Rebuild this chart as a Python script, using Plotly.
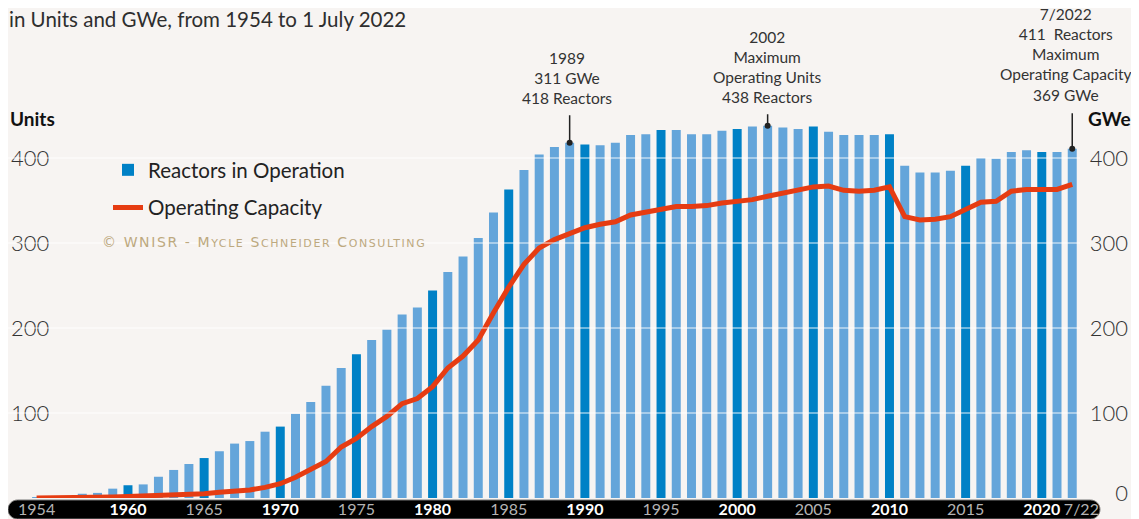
import plotly.graph_objects as go

# ---------------- data ----------------
years = list(range(1954, 2023))
reactors = [1, 1, 2, 5, 6, 11, 15, 16, 25, 33, 40, 47, 55, 64, 67, 78, 84, 99, 113, 132,
            153, 169, 186, 198, 216, 224, 244, 266, 284, 306, 336, 363, 386, 404, 413, 418,
            416, 415, 418, 427, 428, 433, 433, 428, 428, 432, 434, 437, 438, 436, 434, 437,
            431, 427, 427, 427, 428, 391, 383, 383, 385, 391, 400, 399, 407, 409, 407, 407, 411]
capacity = [0.005, 0.005, 0.06, 0.3, 0.6, 1.2, 1.8, 2.2, 2.7, 3.2, 3.9, 5.0, 6.8, 8.3, 9.5,
            12.5, 16.8, 24.5, 33, 43, 60, 70, 84, 96, 111, 117, 131, 153, 167, 186, 218, 248,
            275, 294, 304, 311, 318, 322, 325, 333, 336, 340, 343, 343, 344, 347, 349, 351,
            355, 359, 362, 366, 367, 362, 361, 362, 366, 331, 327, 328, 331, 339, 348, 349,
            361, 363, 363, 363, 369]
tick_years = [1954, 1960, 1965, 1970, 1975, 1980, 1985, 1990, 1995, 2000, 2005, 2010, 2015, 2020]
tick_labels = ["1954", "1960", "1965", "1970", "1975", "1980", "1985", "1990", "1995", "2000",
               "2005", "2010", "2015", "2020"]
last_label = "7/22"
y_ticks = [100, 200, 300, 400]
y2_ticks = [0, 100, 200, 300, 400]

# ---------------- styling ----------------
OFF = 8                      # page body margin
W, H = 1139 - OFF, 519 - OFF
ML, MR, MT, MB = 0, 6, 0, 21
PW, PH = W - ML - MR, H - MT - MB
BG = "#f7f4f2"
LIGHT = "#64a5da"
DARK = "#0081c6"
RED = "#e63c12"
TXT = "#2e2e2e"
FONT = "Lato"

x_scale = 15.23               # px per year
x_first_px = 36.6 - OFF       # px position of first year inside the figure
x_min = years[0] - x_first_px / x_scale
x_max = x_min + PW / x_scale
y_scale = 0.85                # px per unit
y_max = PH / y_scale
BAR_W = 0.59
ZERO_LIFT = 6                 # the "0" label sits a little above the baseline


def pp(x, y):
    """screen pixel -> paper coordinates (decoration placement only)"""
    return (x - OFF - ML) / PW, (MT + PH - (y - OFF)) / PH


hl = [y % 5 == 0 for y in years]
fig = go.Figure()
fig.add_trace(go.Bar(
    x=[y for y, h in zip(years, hl) if not h],
    y=[v for v, h in zip(reactors, hl) if not h],
    width=BAR_W, marker=dict(color=LIGHT, line=dict(width=0)),
    name="Reactors in Operation", showlegend=False, legendgroup="a",
))
fig.add_trace(go.Bar(
    x=[y for y, h in zip(years, hl) if h],
    y=[v for v, h in zip(reactors, hl) if h],
    width=BAR_W, marker=dict(color=DARK, line=dict(width=0)),
    name="Reactors in Operation", legendgroup="a",
))
fig.add_trace(go.Scatter(
    x=years, y=capacity, mode="lines", yaxis="y2",
    line=dict(color=RED, width=5), name="Operating Capacity", legendgroup="b",
))

# x tick labels inside black band
tv = tick_years + [years[-1] + 0.6]
tt = []
for y, lab in zip(tick_years, tick_labels):
    if y % 10 == 0:
        tt.append(f"<b><span style='color:#ffffff'>{lab}</span></b>")
    else:
        tt.append(f"<span style='color:#b4b4b4'>{lab}</span>")
tt.append(f"<span style='color:#b4b4b4'>{last_label}</span>")

y2_vals = [v if v else ZERO_LIFT for v in y2_ticks]
y2_text = [str(v) for v in y2_ticks]

shapes = []
L, R, top, bot = 8, 1100, 500, 519
r = (bot - top) / 2
cy = (top + bot) / 2
k = 0.5523 * r
def P(x, y):
    a, b = pp(x, y)
    return f"{a:.5f},{b:.5f}"
path = (f"M{P(L + r, top)} L{P(R - r, top)} "
        f"C{P(R - r + k, top)} {P(R, cy - k)} {P(R, cy)} "
        f"C{P(R, cy + k)} {P(R - r + k, bot)} {P(R - r, bot)} "
        f"L{P(L + r, bot)} "
        f"C{P(L + r - k, bot)} {P(L, cy + k)} {P(L, cy)} "
        f"C{P(L, cy - k)} {P(L + r - k, top)} {P(L + r, top)} Z")
shapes.append(dict(type="path", path=path, xref="paper", yref="paper",
                   fillcolor="#000000", line=dict(color="#7a7a7a", width=1), layer="below"))
gx1 = pp(1080, 0)[0]
for v in y_ticks:
    shapes.append(dict(type="line", xref="paper", yref="y", x0=0, x1=gx1, y0=v, y1=v,
                       line=dict(color="rgba(255,255,255,0.6)", width=1.5), layer="above"))

ann = []
def txt(x, y, s, size, anchor="left", color=TXT, bold=False, family=FONT):
    a, b = pp(x, y)
    ann.append(dict(xref="paper", yref="paper", x=a, y=b, text=f"<b>{s}</b>" if bold else s,
                    showarrow=False, xanchor=anchor, yanchor="middle",
                    font=dict(family=family, size=size, color=color)))

txt(7, 19, "in Units and GWe, from 1954 to 1 July 2022", 20.5)
txt(8, 118, "Units", 19, bold=True, color="#111")
txt(1133, 118, "GWe", 19, anchor="right", bold=True, color="#111")
sc = "font-size:11px;letter-spacing:1.6px"
big = "letter-spacing:1.6px"
txt(100, 242, f"<span style='{big}'>© WNISR - M</span><span style='{sc}'>YCLE</span>"
              f"<span style='{big}'> S</span><span style='{sc}'>CHNEIDER</span>"
              f"<span style='{big}'> C</span><span style='{sc}'>ONSULTING</span>",
    14, color="#bda97f", family="DejaVu Sans")

callouts = [
    (1989, 418, "1989<br>311 GWe<br>418 Reactors", 78, -3, -29),
    (2002, 438, "2002<br>Maximum<br>Operating Units<br>438 Reactors", 67, 0, -13),
    (2022, 411, "7/2022<br>411  Reactors<br>Maximum<br>Operating Capacity<br>369 GWe", 54, -6, -37),
]
for yr, val, s, ypx, xs, ay in callouts:
    ann.append(dict(x=yr, y=(MT + PH - (ypx - OFF)) / y_scale, xref="x", yref="y", text=s,
                    showarrow=False, xshift=xs, yanchor="middle", xanchor="center", align="center",
                    font=dict(family=FONT, size=15.5, color="#333")))
    ann.append(dict(x=yr, y=val, xref="x", yref="y", text="", showarrow=True, ax=0, ay=ay,
                    axref="pixel", ayref="pixel", arrowhead=6, arrowsize=1, arrowwidth=1.5,
                    arrowcolor="#222", standoff=0))

lx, ly = pp(108, 150)
fig.update_layout(
    width=W, height=H, margin=dict(l=ML, r=MR, t=MT, b=MB),
    paper_bgcolor=BG, plot_bgcolor=BG,
    barmode="overlay",
    font=dict(family=FONT, color=TXT),
    showlegend=True,
    legend=dict(x=lx, y=ly, xanchor="left", yanchor="top", bgcolor="rgba(0,0,0,0)",
                font=dict(family=FONT, size=20.5, color="#222"), tracegroupgap=8,
                itemwidth=30),
    xaxis=dict(range=[x_min, x_max], showgrid=False, zeroline=False, showline=False,
               tickvals=tv, ticktext=tt, ticks="", tickfont=dict(family=FONT, size=16),
               ticklabeloverflow="allow", fixedrange=True),
    yaxis=dict(range=[0, y_max], showgrid=False, zeroline=False, showline=False,
               tickvals=y_ticks, ticks="", ticklabelposition="inside", ticklabelstandoff=0,
               ticklabeloverflow="allow",
               tickfont=dict(family=FONT, size=22, color="#333", weight=300)),
    yaxis2=dict(range=[0, y_max], overlaying="y", side="right", showgrid=False, zeroline=False,
                showline=False, tickvals=y2_vals, ticktext=y2_text, ticks="",
                ticklabelposition="inside", ticklabelstandoff=2, ticklabeloverflow="allow",
                tickfont=dict(family=FONT, size=22, color="#333", weight=300)),
    shapes=shapes, annotations=ann,
)
fig.write_html("out.html")
